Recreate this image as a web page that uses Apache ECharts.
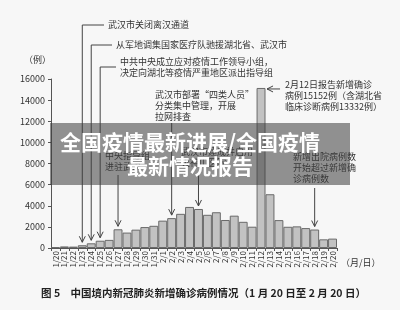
<!DOCTYPE html>
<html>
<head>
<meta charset="utf-8">
<script src="https://cdn.jsdelivr.net/npm/echarts@6/dist/echarts.min.js"></script>
<style>
html,body{margin:0;padding:0;background:#f7f7f7;}
#chart{width:400px;height:310px;}
</style>
</head>
<body>
<div id="chart"></div>
<script>
const categories = ['1/20','1/21','1/22','1/23','1/24','1/25','1/26','1/27','1/28','1/29','1/30','1/31',
  '2/1','2/2','2/3','2/4','2/5','2/6','2/7','2/8','2/9','2/10','2/11','2/12','2/13','2/14','2/15','2/16','2/17','2/18','2/19','2/20'];
const newCases = [77,149,131,259,444,688,769,1771,1459,1737,1982,2102,
  2590,2829,3235,3887,3694,3143,3385,2652,3062,2478,2015,15152,5090,2641,2009,2048,1886,1749,820,889];
const yTickLabels = ['0','2000','4000','6000','8000','10000','12000','14000','16000'];
const titleLines = ['全国疫情最新进展/全国疫情', '最新情况报告'];
const caption = '图 5　中国境内新冠肺炎新增确诊病例情况（1 月 20 日至 2 月 20 日）';

const FONT = '"Noto Sans CJK SC", "Noto Sans", sans-serif';
const chart = echarts.init(document.getElementById('chart'), null, {renderer: 'canvas'});
chart.setOption({
  animation: false,
  backgroundColor: '#f7f7f7',
  grid: {left: 51, right: 63, top: 79, bottom: 62},
  xAxis: {
    type: 'category',
    data: categories,
    boundaryGap: true,
    axisLine: {lineStyle: {color: '#555', width: 1}},
    axisTick: {show: true, length: 3, alignWithLabel: false, lineStyle: {color: '#555'}},
    axisLabel: {rotate: 90, interval: 0, fontSize: 8, color: '#333', margin: 3, fontFamily: FONT}
  },
  yAxis: {
    type: 'value',
    min: 0, max: 16000, interval: 2000,
    axisLine: {show: true, lineStyle: {color: '#555', width: 1}},
    axisTick: {show: true, length: 3, lineStyle: {color: '#555'}},
    splitLine: {show: false},
    axisLabel: {fontSize: 9, color: '#333', margin: 6, fontFamily: FONT,
      formatter: function (v) { return yTickLabels[Math.round(v / 2000)]; }}
  },
  series: [{
    type: 'bar',
    data: newCases,
    barCategoryGap: '0%',
    itemStyle: {color: '#c2c2c2', borderColor: '#6a6a6a', borderWidth: 1}
  }]
});

function px(i) { return chart.convertToPixel({gridIndex: 0}, [i, newCases[i]]); }
const LC = '#444';
const els = [];
function seg(x1, y1, x2, y2) {
  els.push({type: 'line', z: 50, shape: {x1, y1, x2, y2}, style: {stroke: LC, lineWidth: 1}});
}
function headDown(x, y) {
  els.push({type: 'polyline', z: 50, shape: {points: [[x - 3, y - 6], [x, y], [x + 3, y - 6]]}, style: {stroke: LC, lineWidth: 1, fill: null}});
}
function headLeft(x, y) {
  els.push({type: 'polyline', z: 50, shape: {points: [[x + 6, y - 3], [x, y], [x + 6, y + 3]]}, style: {stroke: LC, lineWidth: 1, fill: null}});
}
function txt(text, x, yCenterFirst, opts) {
  els.push(Object.assign({type: 'text', z: 50, x: x, y: yCenterFirst - 5.5,
    style: {text: text, font: '9px ' + FONT, fill: '#333', lineHeight: 11, verticalAlign: 'top'}}, opts || {}));
}
function elbow(idx, yLine, xEnd) {
  const p = px(idx);
  const tipY = p[1] - 3;
  seg(p[0], yLine, p[0], tipY);
  seg(p[0], yLine, xEnd, yLine);
  headDown(p[0], tipY);
}
function drop(idx, yStart) {
  const p = px(idx);
  const tipY = p[1] - 3;
  seg(p[0], yStart, p[0], tipY);
  headDown(p[0], tipY);
}

// annotations
elbow(3, 25, 104); txt('武汉市关闭离汉通道', 108, 25);
elbow(4, 45, 112); txt('从军地调集国家医疗队驰援湖北省、武汉市', 116, 45);
elbow(5, 67, 116); txt('中共中央成立应对疫情工作领导小组，\n决定向湖北等疫情严重地区派出指导组', 120, 62);
drop(13, 123); txt('武汉市部署“四类人员”\n分类集中管理，开展\n拉网排查', 155, 95);
drop(7, 175); txt('中央指导组\n进驻武汉', 105, 156);
drop(16, 175); txt('武汉市建成并启用\n火神山医院', 181, 152);
drop(29, 188); txt('新增出院病例数\n开始超过新增确\n诊病例数', 293, 157);
(function () {
  const p = px(23);
  const y = p[1] + 1;
  const xr = p[0] + 6;
  seg(xr, y, xr + 13, y);
  headLeft(xr, y);
})();
txt('2月12日报告新增确诊\n病例15152例（含湖北省\n临床诊断病例13332例）', 285, 85);

// axis unit labels
txt('（例）', 24, 60);
txt('（月/日）', 341, 263);

// caption
els.push({type: 'text', z: 50, x: 41, y: 293,
  style: {text: caption, font: 'bold 10.5px ' + FONT, fill: '#222', verticalAlign: 'middle'}});

// overlay band + title
els.push({type: 'rect', z: 100, shape: {x: 50, y: 123, width: 300, height: 62},
  style: {fill: 'rgba(60,60,60,0.55)'}});
els.push({type: 'text', z: 101, x: 190, y: 142,
  style: {text: titleLines[0], font: 'bold 21px ' + FONT, fill: '#ffffff', align: 'center', verticalAlign: 'middle',
    shadowColor: 'rgba(0,0,0,0.4)', shadowBlur: 2}});
els.push({type: 'text', z: 101, x: 190, y: 166,
  style: {text: titleLines[1], font: 'bold 21px ' + FONT, fill: '#ffffff', align: 'center', verticalAlign: 'middle',
    shadowColor: 'rgba(0,0,0,0.4)', shadowBlur: 2}});

chart.setOption({graphic: {elements: els}});
</script>
</body>
</html>
